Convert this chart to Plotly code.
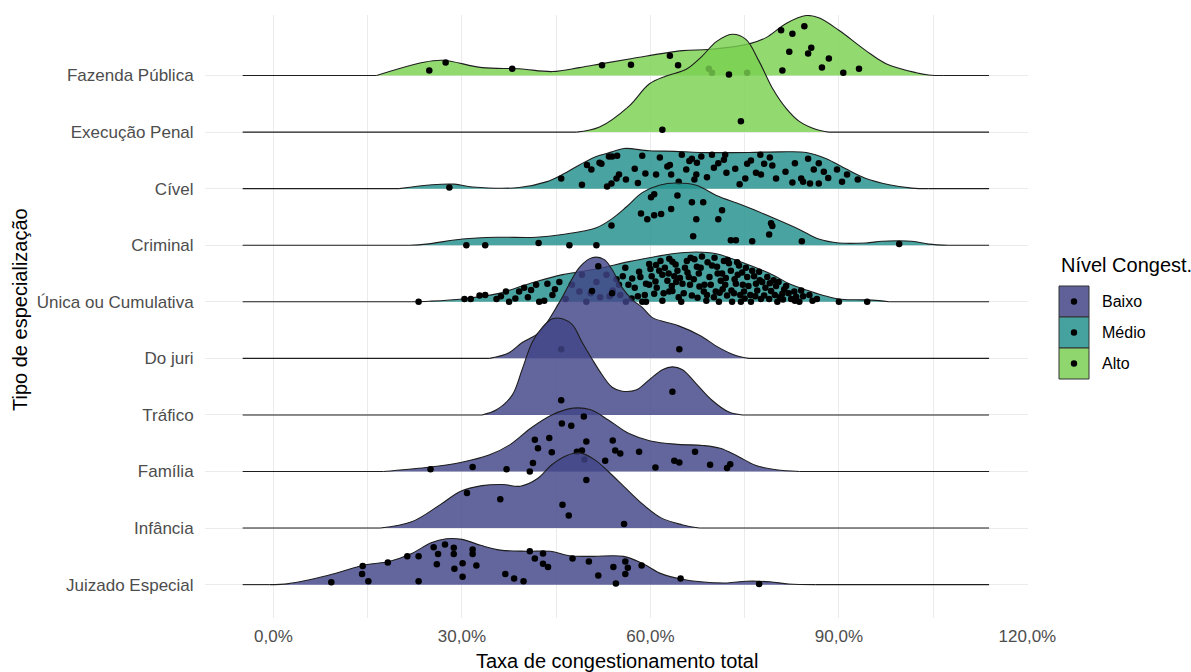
import plotly.graph_objects as go

# ---------------------------------------------------------------- data
# rows listed bottom -> top (y position 1..10)
categories = ["Juizado Especial", "Infância", "Família", "Tráfico", "Do juri",
              "Única ou Cumulativa", "Criminal", "Cível", "Execução Penal", "Fazenda Pública"]
nivel = {"Juizado Especial": "Baixo", "Infância": "Baixo", "Família": "Baixo",
         "Tráfico": "Baixo", "Do juri": "Baixo", "Única ou Cumulativa": "Médio",
         "Criminal": "Médio", "Cível": "Médio", "Execução Penal": "Alto",
         "Fazenda Pública": "Alto"}
niveis = ["Baixo", "Médio", "Alto"]

x_ticks = [0, 30, 60, 90, 120]
x_tick_labels = ["0,0%", "30,0%", "60,0%", "90,0%", "120,0%"]
x_minor = [15, 45, 75, 105]
density_span = [-4.9, 113.9]   # range of the estimated density lines (%)

# density profiles: taxa (%) and ridge height (in row units)
fazenda_dens_x = [16.4, 23.7, 26.9, 33.2, 39.1, 44.4, 48.7, 52.3, 57.1, 65.1, 69.3, 75.7,
                  78.4, 81.6, 84.8, 86.8, 90.0, 94.3, 97.5, 102.3, 104.3, 106.7]
fazenda_dens_h = [0, 0.23, 0.27, 0.14, 0.12, 0.07, 0.14, 0.21, 0.30, 0.44, 0.46, 0.56,
                  0.67, 0.92, 1.06, 1.02, 0.80, 0.44, 0.21, 0.05, 0.01, 0]
execucao_dens_x = [48.2, 51.9, 56.6, 59.8, 62.5, 65.7, 68.2, 70.5, 73.0, 75.2, 77.3, 79.4,
                   81.6, 83.7, 86.3, 88.4]
execucao_dens_h = [0, 0.09, 0.46, 0.85, 0.99, 1.11, 1.34, 1.60, 1.73, 1.64, 1.25, 0.78,
                   0.42, 0.19, 0.05, 0]
civel_dens_x = [20.0, 25.3, 28.8, 31.7, 39.1, 43.4, 46.0, 48.7, 51.4, 53.9, 55.8, 59.8,
                63.8, 67.8, 75.7, 80.5, 84.8, 88.0, 91.1, 94.3, 98.0, 101.6, 104.3]
civel_dens_h = [0, 0.07, 0.08, 0.03, 0.02, 0.12, 0.25, 0.42, 0.57, 0.65, 0.71, 0.67,
                0.66, 0.64, 0.64, 0.65, 0.64, 0.53, 0.35, 0.18, 0.07, 0.01, 0]
criminal_dens_x = [21.6, 24.3, 30.1, 35.5, 41.8, 46.0, 51.4, 53.9, 56.2, 58.7, 61.4, 64.1,
                   67.3, 70.5, 74.6, 79.4, 83.7, 86.8, 90.0, 94.3, 96.9, 101.6, 104.3, 107.5]
criminal_dens_h = [0, 0.02, 0.11, 0.14, 0.14, 0.19, 0.31, 0.47, 0.68, 0.93, 1.06, 1.10,
                   1.06, 0.88, 0.71, 0.49, 0.28, 0.11, 0.04, 0.04, 0.07, 0.07, 0.02, 0]
unica_dens_x = [22.0, 24.8, 30.1, 35.5, 40.7, 46.0, 51.4, 56.6, 60.9, 63.5, 67.3, 70.5,
                73.0, 75.7, 79.4, 82.1, 84.8, 87.3, 90.0, 92.7, 95.3, 98.0]
unica_dens_h = [0, 0.01, 0.05, 0.14, 0.32, 0.48, 0.58, 0.71, 0.80, 0.85, 0.88, 0.85,
                0.76, 0.65, 0.48, 0.32, 0.21, 0.12, 0.05, 0.035, 0.03, 0]
juri_dens_x = [34.4, 37.5, 39.6, 42.3, 45.5, 48.7, 50.7, 52.6, 53.9, 55.5, 57.1, 58.7,
               60.3, 62.5, 64.6, 67.8, 70.9, 73.6, 75.7]
juri_dens_h = [0, 0.10, 0.28, 0.46, 0.99, 1.61, 1.78, 1.75, 1.57, 1.25, 1.04, 0.90,
               0.72, 0.64, 0.57, 0.41, 0.19, 0.05, 0]
trafico_dens_x = [33.2, 35.5, 38.0, 39.6, 41.2, 42.8, 44.4, 46.0, 47.6, 49.1, 50.7, 52.3,
                  53.9, 55.5, 57.7, 59.8, 61.9, 63.5, 65.1, 67.3, 69.8, 72.5, 74.6]
trafico_dens_h = [0, 0.09, 0.35, 0.81, 1.29, 1.55, 1.70, 1.70, 1.59, 1.29, 0.99, 0.71,
                  0.49, 0.42, 0.44, 0.62, 0.80, 0.85, 0.80, 0.55, 0.26, 0.05, 0]
familia_dens_x = [17.5, 24.3, 29.8, 34.3, 37.6, 41.0, 44.3, 47.7, 50.5, 53.3, 56.6, 60.0,
                  64.4, 68.3, 71.1, 73.9, 76.7, 80.0, 83.7]
familia_dens_h = [0, 0.07, 0.16, 0.29, 0.47, 0.77, 1.00, 1.12, 1.09, 0.91, 0.67, 0.54,
                  0.48, 0.46, 0.41, 0.27, 0.11, 0.03, 0]
infancia_dens_x = [17.0, 22.0, 26.5, 29.8, 33.2, 36.5, 39.3, 42.1, 44.3, 46.6, 48.8, 51.1,
                   53.3, 56.1, 58.9, 61.7, 65.0, 67.8]
infancia_dens_h = [0, 0.11, 0.41, 0.65, 0.75, 0.77, 0.74, 0.88, 1.12, 1.28, 1.33, 1.21,
                   1.00, 0.70, 0.41, 0.18, 0.06, 0]
juizado_dens_x = [-0.6, 2.4, 8.6, 14.7, 18.4, 22.0, 25.1, 27.5, 30.0, 33.1, 36.1, 40.4,
                  44.1, 47.1, 50.8, 55.7, 58.8, 61.8, 64.9, 68.0, 72.2, 75.3, 79.0, 82.0, 86.3]
juizado_dens_h = [0, 0.017, 0.16, 0.35, 0.41, 0.55, 0.74, 0.81, 0.80, 0.69, 0.61, 0.59,
                  0.59, 0.51, 0.50, 0.50, 0.37, 0.19, 0.10, 0.05, 0.03, 0.06, 0.05, 0.01, 0]

# individual courts: taxa (%) and jittered vertical offset (row units)
fazenda_pts_x = [24.8, 27.4, 38.0, 52.3, 56.9, 63.1, 64.4, 69.3, 69.8, 75.4, 80.8, 82.6,
                 84.5, 82.1, 85.6, 85.1, 88.4, 81.0, 87.3, 90.7, 93.2]
fazenda_pts_dy = [0.09, 0.23, 0.12, 0.18, 0.19, 0.35, 0.18, 0.12, 0.05, 0.05, 0.80, 0.74,
                  0.87, 0.42, 0.49, 0.39, 0.30, 0.09, 0.14, 0.05, 0.12]
execucao_pts_x = [61.9, 74.4, 72.5]
execucao_pts_dy = [0.04, 0.19, 1.02]
civel_pts_x = [28.0, 45.8, 49.1, 49.9, 50.6, 51.9, 53.1, 53.8, 54.6, 55.0, 53.9, 54.7,
               56.1, 52.2, 53.4, 58.7, 59.2, 60.9, 62.7, 63.1, 63.3, 65.7, 66.2, 66.6,
               67.4, 68.1, 67.3, 67.0, 69.8, 70.1, 71.9, 71.7, 72.1, 75.1, 75.4, 76.8,
               77.5, 77.6, 78.1, 79.4, 80.0, 82.6, 84.0, 84.3, 85.1, 85.4, 86.0, 86.8,
               87.6, 88.3, 89.7, 91.3, 93.0,
               57.5, 58.0, 61.5, 64.5, 65.0, 69.0, 70.8, 73.5, 74.2, 76.0, 79.0, 81.5,
               83.0, 86.8, 90.5]
civel_pts_dy = [0.02, 0.18, 0.07, 0.42, 0.34, 0.46, 0.04, 0.09, 0.18, 0.25, 0.57, 0.58,
                0.16, 0.44, 0.57, 0.58, 0.27, 0.25, 0.39, 0.42, 0.25, 0.34, 0.49, 0.53,
                0.46, 0.57, 0.25, 0.16, 0.60, 0.37, 0.60, 0.51, 0.28, 0.18, 0.44, 0.28,
                0.60, 0.25, 0.44, 0.41, 0.18, 0.11, 0.18, 0.12, 0.53, 0.09, 0.34, 0.09,
                0.30, 0.19, 0.34, 0.25, 0.16,
                0.35, 0.10, 0.55, 0.12, 0.60, 0.20, 0.45, 0.35, 0.08, 0.50, 0.55, 0.30,
                0.45, 0.45, 0.12]
criminal_pts_x = [30.7, 33.7, 42.2, 47.1, 51.4, 53.8, 60.1, 60.6, 64.3, 58.5, 59.5, 60.6,
                  61.7, 63.3, 66.6, 68.4, 71.4, 67.3, 70.8, 66.8, 72.8, 73.6, 76.2, 79.2,
                  79.4, 78.9, 84.1, 99.6]
criminal_pts_dy = [0, 0, 0.04, 0, 0, 0.35, 0.85, 0.90, 0.88, 0.56, 0.46, 0.53,
                   0.55, 0.64, 0.76, 0.76, 0.62, 0.46, 0.46, 0.16, 0.09, 0.09, 0.07, 0.39,
                   0.34, 0.19, 0.07, 0.02]
unica_pts_x = [23.1, 30.4, 31.4, 32.8, 33.7, 35.5, 37.5, 37.0, 39.1, 39.9, 41.0, 41.8,
               42.3, 43.1, 44.4, 43.6, 45.5, 48.7, 49.1, 49.8, 51.4, 53.0, 55.0, 56.1,
               57.1, 58.2, 59.3, 59.8, 60.9, 61.9, 63.0, 63.5, 64.1,
               58.7, 59.8, 59.3, 60.6, 61.4, 61.9, 62.7, 63.0, 63.5, 64.3, 64.9, 65.1,
               65.8, 66.1, 66.6, 67.4, 67.8, 68.2, 68.9, 69.4, 69.8, 70.4, 70.9, 71.2,
               71.7, 72.2, 72.8, 73.0, 73.6, 74.1, 74.4, 74.9, 75.4, 76.0, 76.8, 77.3,
               78.1, 78.6, 79.2, 80.0, 80.2, 81.0, 81.6, 82.9, 83.2, 83.7, 85.3, 90.0, 94.5,
               56.0, 57.5, 58.0, 60.2, 61.0, 62.3, 63.8, 64.5, 65.5, 66.3, 67.0, 67.7,
               68.6, 69.0, 70.2, 70.7, 71.5, 72.0, 72.5, 73.3, 73.9, 74.7, 75.2, 75.9,
               76.5, 77.0, 77.8, 78.9, 79.6, 80.6, 81.3, 82.4, 84.3, 86.5, 50.5, 52.0,
               54.0, 55.6, 47.5, 46.5, 44.8, 38.5, 36.2, 40.5,
               58.4, 59.1, 60.0, 60.8, 61.6, 62.1, 62.9, 63.4, 64.0, 64.7, 65.3, 65.9,
               66.4, 66.9, 67.5, 68.0, 68.5, 69.1, 69.6, 70.1, 70.6, 71.0, 71.4, 71.9,
               72.3, 72.9, 73.4, 73.8, 74.3, 74.6, 75.0, 75.6, 76.2, 76.7, 77.4, 77.6,
               78.3, 79.0, 79.8, 80.4, 81.1, 82.0, 83.0, 84.0, 85.8, 57.0, 56.5, 55.2,
               54.6, 53.5]
unica_pts_dy = [0, 0.05, 0.05, 0.11, 0.12, 0.05, 0, 0.18, 0.18, 0.25, 0.21, 0.30,
                0, 0.02, 0.12, 0.32, 0.35, 0.18, 0.48, 0, 0.35, 0.48, 0.30, 0,
                0.41, 0.53, 0, 0.30, 0.65, 0.48, 0.18, 0.71, 0.35,
                0, 0.67, 0.32, 0.14, 0.55, 0.02, 0.37, 0.76, 0.19, 0.55, 0, 0.32,
                0.72, 0.44, 0.11, 0.62, 0.27, 0.80, 0.02, 0.44, 0.64, 0.18, 0, 0.37,
                0.72, 0.11, 0.55, 0, 0.32, 0.64, 0, 0.18, 0.44, 0, 0.32, 0.53,
                0.11, 0.44, 0.19, 0.28, 0, 0.14, 0.28, 0.18, 0.09, 0, 0.12, 0, 0,
                0.60, 0.25, 0.10, 0.45, 0.25, 0.60, 0.45, 0.08, 0.60, 0.30, 0.75, 0.50,
                0.30, 0.12, 0.78, 0.50, 0.22, 0.42, 0.68, 0.15, 0.48, 0.30, 0.60, 0.12,
                0.45, 0.20, 0.35, 0.05, 0.38, 0.08, 0.22, 0.05, 0.10, 0.05, 0.15, 0.08,
                0.20, 0.45, 0.30, 0.05, 0.22, 0.06, 0.10, 0.08,
                0.44, 0.12, 0.58, 0.36, 0.72, 0.15, 0.50, 0.28, 0.66, 0.42, 0.15, 0.52,
                0.78, 0.40, 0.07, 0.60, 0.18, 0.70, 0.30, 0.08, 0.62, 0.16, 0.50, 0.30,
                0.74, 0.20, 0.40, 0.70, 0.12, 0.52, 0.06, 0.28, 0.55, 0.10, 0.38, 0.05,
                0.25, 0.33, 0.12, 0.35, 0.04, 0.15, 0.02, 0.20, 0.02, 0.06, 0.30, 0.12,
                0.40, 0.10]
juri_pts_x = [45.8, 64.6, 51.7, 50.7, 53.9]
juri_pts_dy = [0.16, 0.16, 1.63, 1.19, 1.15]
trafico_pts_x = [45.8, 63.5]
trafico_pts_dy = [0.26, 0.41]
familia_pts_x = [25.0, 31.7, 37.1, 40.8, 41.3, 41.6, 42.1, 43.9, 44.3, 45.9, 47.4, 49.4,
                 49.8, 48.3, 49.1, 49.5, 52.8, 54.0, 54.4, 55.2, 58.2, 60.8, 63.8, 64.6,
                 67.1, 69.5, 72.2, 72.7]
familia_pts_dy = [0.04, 0.08, 0.04, 0, 0.15, 0.56, 0.41, 0.59, 0.34, 0.85, 0.81, 0.97,
                  0.53, 0.35, 0.37, 0.21, 0.19, 0.55, 0.37, 0.32, 0.35, 0.07, 0.19, 0.16,
                  0.35, 0.12, 0.06, 0.13]
infancia_pts_x = [30.8, 36.1, 46.0, 47.0, 49.8, 55.8]
infancia_pts_dy = [0.62, 0.51, 0.41, 0.22, 0.85, 0.07]
juizado_pts_x = [9.2, 14.2, 14.1, 15.1, 18.2, 21.3, 23.1, 23.1, 25.5, 26.2, 26.0, 27.3,
                 28.7, 28.7, 28.8, 30.1, 30.1, 31.7, 31.7, 32.3, 36.9, 38.3, 39.8, 40.8,
                 41.6, 42.9, 42.9, 43.7, 47.6, 50.2, 51.7, 54.1, 54.5, 56.0, 56.4, 56.0,
                 58.6, 64.8, 77.3]
juizado_pts_dy = [0.04, 0.33, 0.19, 0.06, 0.39, 0.50, 0.50, 0.06, 0.66, 0.54, 0.36, 0.71,
                  0.65, 0.54, 0.28, 0.38, 0.14, 0.62, 0.54, 0.34, 0.19, 0.11, 0.06, 0.59,
                  0.46, 0.55, 0.37, 0.31, 0.46, 0.41, 0.16, 0.31, 0.02, 0.41, 0.30, 0.19,
                  0.34, 0.11, 0.01]

# ---------------------------------------------------------------- styling
FONT = "Liberation Sans, Arial, sans-serif"
FILL = {"Baixo": "rgba(65,68,135,0.82)", "Médio": "rgba(33,144,140,0.82)",
        "Alto": "rgba(122,209,81,0.82)"}
KEY = {"Baixo": "#5F6198", "Médio": "#45A29F", "Alto": "#8FD66E"}
LINE = "#1E1E1E"
GRID = "#EBEBEB"

ridges = {
    "Fazenda Pública": (fazenda_dens_x, fazenda_dens_h, fazenda_pts_x, fazenda_pts_dy),
    "Execução Penal": (execucao_dens_x, execucao_dens_h, execucao_pts_x, execucao_pts_dy),
    "Cível": (civel_dens_x, civel_dens_h, civel_pts_x, civel_pts_dy),
    "Criminal": (criminal_dens_x, criminal_dens_h, criminal_pts_x, criminal_pts_dy),
    "Única ou Cumulativa": (unica_dens_x, unica_dens_h, unica_pts_x, unica_pts_dy),
    "Do juri": (juri_dens_x, juri_dens_h, juri_pts_x, juri_pts_dy),
    "Tráfico": (trafico_dens_x, trafico_dens_h, trafico_pts_x, trafico_pts_dy),
    "Família": (familia_dens_x, familia_dens_h, familia_pts_x, familia_pts_dy),
    "Infância": (infancia_dens_x, infancia_dens_h, infancia_pts_x, infancia_pts_dy),
    "Juizado Especial": (juizado_dens_x, juizado_dens_h, juizado_pts_x, juizado_pts_dy),
}

fig = go.Figure()

# upper rows first so that lower ridges overlap them
for name in reversed(categories):
    base = categories.index(name) + 1
    dx, dh, px, pdy = ridges[name]
    fill = FILL[nivel[name]]
    # baseline helper for the area fill
    fig.add_trace(go.Scatter(x=[dx[0], dx[-1]], y=[base, base], mode="lines",
                             line=dict(width=0, color="rgba(0,0,0,0)"),
                             hoverinfo="skip", showlegend=False))
    # density outline + fill
    fig.add_trace(go.Scatter(x=dx, y=[base + h for h in dh], mode="lines",
                             line=dict(color=LINE, width=1.1, shape="spline", smoothing=1.0),
                             fill="tonexty", fillcolor=fill,
                             hoverinfo="skip", showlegend=False))
    # flat tails of the density line
    fig.add_trace(go.Scatter(x=[density_span[0], dx[0], None, dx[-1], density_span[1]],
                             y=[base, base, None, base, base], mode="lines",
                             line=dict(color=LINE, width=1.1),
                             hoverinfo="skip", showlegend=False))
    # jittered observations
    fig.add_trace(go.Scatter(x=px, y=[base + d for d in pdy], mode="markers",
                             marker=dict(color="black", size=6.5, line=dict(width=0)),
                             hoverinfo="skip", showlegend=False))

# ---------------------------------------------------------------- layout
L, R, T, B = 205, 163, 15, 54
W, H = 1191, 672
PW, PH = W - L - R, H - T - B


def paper_x(px):
    return (px - L) / PW


def paper_y(py):
    return (H - B - py) / PH


shapes = []
annotations = []

# legend built from shapes and text
annotations.append(dict(text="Nível Congest.", x=paper_x(1059), y=paper_y(265),
                        xref="paper", yref="paper", xanchor="left", yanchor="middle",
                        showarrow=False, font=dict(family=FONT, size=20, color="black")))
for i, lvl in enumerate(niveis):
    top = 286 + 31 * i
    shapes.append(dict(type="rect", xref="paper", yref="paper",
                       x0=paper_x(1059), x1=paper_x(1089),
                       y0=paper_y(top + 31), y1=paper_y(top),
                       fillcolor=KEY[lvl], line=dict(color="#333333", width=1)))
    shapes.append(dict(type="circle", xref="paper", yref="paper",
                       xsizemode="pixel", ysizemode="pixel",
                       xanchor=paper_x(1074), yanchor=paper_y(top + 15.5),
                       x0=-3.2, x1=3.2, y0=-3.2, y1=3.2,
                       fillcolor="black", line=dict(width=0)))
    annotations.append(dict(text=lvl, x=paper_x(1100), y=paper_y(top + 15.5),
                            xref="paper", yref="paper", xanchor="left", yanchor="middle",
                            showarrow=False, font=dict(family=FONT, size=16, color="black")))

# axis titles
annotations.append(dict(text="Taxa de congestionamento total", x=paper_x(617), y=paper_y(661),
                        xref="paper", yref="paper", xanchor="center", yanchor="middle",
                        showarrow=False, font=dict(family=FONT, size=20, color="black")))
annotations.append(dict(text="Tipo de especialização", x=paper_x(20), y=paper_y(310),
                        xref="paper", yref="paper", xanchor="center", yanchor="middle",
                        textangle=-90, showarrow=False,
                        font=dict(family=FONT, size=20, color="black")))

fig.update_layout(
    width=W, height=H,
    margin=dict(l=L, r=R, t=T, b=B, pad=0),
    paper_bgcolor="white", plot_bgcolor="white",
    font=dict(family=FONT, color="#4D4D4D"),
    showlegend=False,
    hovermode=False,
    shapes=shapes,
    annotations=annotations,
    xaxis=dict(range=[-10.9, 120.1], tickvals=x_ticks, ticktext=x_tick_labels,
               showgrid=True, gridcolor=GRID, gridwidth=1.3, zeroline=False, showline=False,
               ticks="outside", ticklen=3, tickcolor="rgba(0,0,0,0)",
               tickfont=dict(family=FONT, size=17, color="#4D4D4D"),
               minor=dict(tickvals=x_minor, showgrid=True, gridcolor=GRID, gridwidth=0.8,
                          ticks="")),
    yaxis=dict(range=[0.41, 11.07], tickvals=list(range(1, len(categories) + 1)),
               ticktext=categories, showgrid=True, gridcolor=GRID, gridwidth=1.3,
               zeroline=False, showline=False,
               ticks="outside", ticklen=7, tickcolor="rgba(0,0,0,0)",
               tickfont=dict(family=FONT, size=17, color="#4D4D4D")),
)

fig.write_html("out.html")
